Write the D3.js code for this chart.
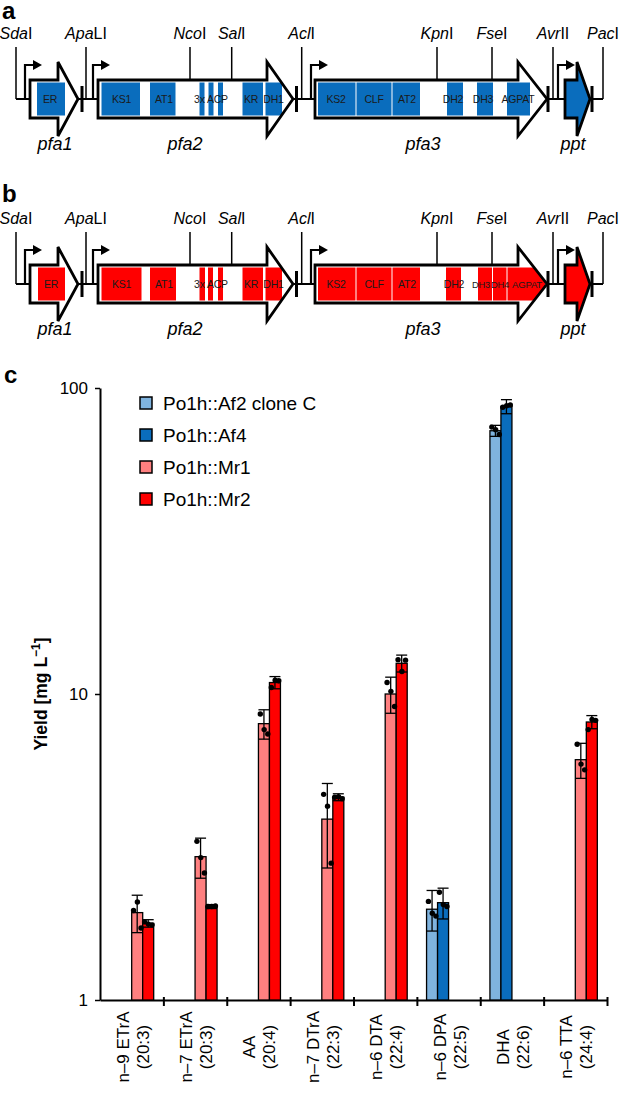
<!DOCTYPE html>
<html>
<head>
<meta charset="utf-8">
<script src="https://cdn.jsdelivr.net/npm/d3@7"></script>
<style>
body { margin: 0; background: #fff; }
text { font-family: "Liberation Sans", Arial, sans-serif; }
</style>
</head>
<body>
<div id="fig"></div>
<script>
// ---------- panel c data ----------
const categories = ["n–9 ETrA", "n–7 ETrA", "AA", "n–7 DTrA", "n–6 DTA", "n–6 DPA", "DHA", "n–6 TTA"];
const formulas = ["(20:3)", "(20:3)", "(20:4)", "(22:3)", "(22:4)", "(22:5)", "(22:6)", "(24:4)"];
const seriesNames = ["Po1h::Af2 clone C", "Po1h::Af4", "Po1h::Mr1", "Po1h::Mr2"];
const seriesColors = ["#7fb3de", "#0a6dbd", "#ff8080", "#ff0000"];

const af2Mean = [null, null, null, null, null, 1.98, 72.5, null];
const af2Sd = [null, null, null, null, null, 0.3, 3.0, null];
const af2Reps = [null, null, null, null, null, [2.1, 1.92, 1.88], [74.5, 73, 70.5], null];

const af4Mean = [null, null, null, null, null, 2.08, 87, null];
const af4Sd = [null, null, null, null, null, 0.24, 4.6, null];
const af4Reps = [null, null, null, null, null, [2.25, 2.05, 2.02], [86.5, 87.5, 88], null];

const mr1Mean = [1.93, 2.94, 8.0, 3.9, 10.0, null, null, 6.1];
const mr1Sd = [0.27, 0.44, 0.88, 1.2, 1.35, null, null, 0.8];
const mr1Reps = [[1.96, 2.09, 1.72], [3.3, 2.92, 2.6], [8.6, 7.65, 7.4], [4.7, 4.3, 2.8], [10.9, 10.2, 9.1], null, null, [6.85, 5.9, 5.65]];

const mr2Mean = [1.78, 2.02, 10.9, 4.6, 12.6, null, null, 8.1];
const mr2Sd = [0.05, 0.03, 0.5, 0.12, 0.8, null, null, 0.4];
const mr2Reps = [[1.8, 1.77, 1.76], [2.02, 2.02, 2.03], [10.5, 11.1, 11.05], [4.6, 4.62, 4.55], [12.95, 11.85, 12.9], null, null, [7.65, 8.25, 8.2]];

const yTicks = [1, 10, 100];

// ---------- panels a/b data (map units ~ px) ----------
const geneNames = ["pfa1", "pfa2", "pfa3", "ppt"];
const geneStart = [30, 98, 315, 565];
const geneHead = [58, 267, 518, 577];
const geneTip = [78, 293, 547, 590];
const geneLabelX = [55, 185, 423, 573];
const promoterPos = [25, 93, 311, 558];
const terminatorPos = [82, 296.5, 548, 592];

const siteItalic = ["Sda", "Apa", "Nco", "Sal", "Acl", "Kpn", "Fse", "Avr", "Pac"];
const siteRoman = ["I", "LI", "I", "I", "I", "I", "I", "II", "I"];
const sitePos = [16, 86, 190, 231.7, 301.7, 437, 492, 553, 603];
const siteOnGene = [false, false, true, true, false, true, true, false, false];

// [gene index, start, end]
const domainsA = [
    [0, 37, 65],
    [1, 101.5, 140], [1, 150, 175.5], [1, 199.5, 204.5], [1, 208.5, 213.5], [1, 218, 223], [1, 242.5, 263], [1, 265.5, 282],
    [2, 318, 355.5], [2, 356.5, 391.5], [2, 392.5, 420], [2, 447, 463], [2, 477, 493], [2, 507, 530],
    [3, 560, 595]
];
// [text, x, font size]
const labelsA = [["ER", 50, 10.5], ["KS1", 121.5, 10.5], ["AT1", 164, 10.5], ["3x ACP", 211, 10.5], ["KR", 251, 10.5], ["DH1", 273.5, 10.5],
    ["KS2", 336, 10.5], ["CLF", 374, 10.5], ["AT2", 407, 10.5], ["DH2", 453, 10.5], ["DH3", 483, 10.5], ["AGPAT", 518, 10.5]];

const domainsB = [
    [0, 38, 65],
    [1, 101.5, 141.5], [1, 150, 176], [1, 199.5, 205], [1, 208, 213], [1, 218, 223], [1, 242.5, 263], [1, 265.5, 282],
    [2, 318, 355.5], [2, 356.5, 391.5], [2, 392.5, 420], [2, 446, 461], [2, 478, 492], [2, 493, 506.5], [2, 507.5, 545],
    [3, 560, 595]
];
const labelsB = [["ER", 51, 10.5], ["KS1", 121.5, 10.5], ["AT1", 164, 10.5], ["3x ACP", 211, 10.5], ["KR", 251, 10.5], ["DH1", 273.5, 10.5],
    ["KS2", 336, 10.5], ["CLF", 374, 10.5], ["AT2", 407, 10.5], ["DH2", 454, 10.5], ["DH3", 481, 9.3], ["DH4", 500, 9.3], ["AGPAT", 527, 9.6]];

const width = 633, height = 1096;

let svg = d3.select("#fig")
    .append("svg")
    .attr("width", width)
    .attr("height", height);

// panel letters
svg.append("text").attr("x", 2).attr("y", 19).style("font-size", "24px").style("font-weight", 700).text("a");
svg.append("text").attr("x", 2).attr("y", 202).style("font-size", "24px").style("font-weight", 700).text("b");
svg.append("text").attr("x", 4).attr("y", 383).style("font-size", "24px").style("font-weight", 700).text("c");

// ---------- gene maps ----------
let mx = d3.scaleLinear().domain([0, width]).range([0, width]);
const bodyH = 19, headH = 37, boxH = 16.5;

function genePath(i) {
    let x0 = mx(geneStart[i]), h = mx(geneHead[i]), x1 = mx(geneTip[i]);
    return `M${x0},${-bodyH}L${h},${-bodyH}L${h},${-headH}L${x1},0L${h},${headH}L${h},${bodyH}L${x0},${bodyH}Z`;
}

function drawMap(panelY, domains, labels, color, id) {
    let g = svg.append("g").attr("transform", `translate(0, ${panelY})`);

    // backbone
    g.append("line")
        .attr("x1", mx(sitePos[0])).attr("x2", mx(sitePos[sitePos.length - 1]))
        .attr("y1", 0).attr("y2", 0)
        .attr("stroke", "#000").attr("stroke-width", 2.2);

    // restriction sites
    sitePos.forEach(function(p, i) {
        g.append("line")
            .attr("x1", mx(p)).attr("x2", mx(p))
            .attr("y1", -52).attr("y2", siteOnGene[i] ? -bodyH : 0)
            .attr("stroke", "#000").attr("stroke-width", 1.5);
        let t = g.append("text")
            .attr("x", mx(p)).attr("y", -60)
            .style("text-anchor", "middle")
            .style("font-size", "16px");
        t.append("tspan").style("font-style", "italic").text(siteItalic[i]);
        t.append("tspan").text(siteRoman[i]);
    });

    // promoters
    promoterPos.forEach(function(p) {
        g.append("path")
            .attr("d", `M${mx(p)},0V-34H${mx(p) + 9}`)
            .attr("fill", "none").attr("stroke", "#000").attr("stroke-width", 2.2);
        g.append("path")
            .attr("d", `M${mx(p) + 8},-39L${mx(p) + 17},-34L${mx(p) + 8},-29Z`)
            .attr("fill", "#000");
    });

    // genes
    let defs = g.append("defs");
    geneNames.forEach(function(name, i) {
        defs.append("clipPath").attr("id", `clip-${id}-${i}`)
            .append("path").attr("d", genePath(i));
        g.append("path").attr("d", genePath(i)).attr("fill", "#fff");
        g.append("g").attr("clip-path", `url(#clip-${id}-${i})`)
            .selectAll("rect")
            .data(domains.filter(function(d) { return d[0] == i; }))
            .enter().append("rect")
            .attr("x", function(d) { return mx(d[1]); })
            .attr("width", function(d) { return mx(d[2]) - mx(d[1]); })
            .attr("y", i == 3 ? -headH : -boxH)
            .attr("height", i == 3 ? 2 * headH : 2 * boxH)
            .attr("fill", color);
        g.append("path").attr("d", genePath(i))
            .attr("fill", "none").attr("stroke", "#000").attr("stroke-width", 2.8)
            .attr("stroke-linejoin", "miter");
        g.append("text")
            .attr("x", mx(geneLabelX[i])).attr("y", 51)
            .style("text-anchor", "middle")
            .style("font-size", "18px").style("font-style", "italic")
            .text(name);
    });

    // terminators
    terminatorPos.forEach(function(p) {
        g.append("line")
            .attr("x1", mx(p)).attr("x2", mx(p))
            .attr("y1", -13).attr("y2", 13)
            .attr("stroke", "#000").attr("stroke-width", 3);
    });

    // domain labels
    g.selectAll(".dlabel").data(labels).enter().append("text")
        .attr("class", "dlabel")
        .attr("x", function(d) { return mx(d[1]); })
        .attr("y", 3.8)
        .style("text-anchor", "middle")
        .style("font-size", function(d) { return d[2] + "px"; })
        .style("letter-spacing", "-0.2px")
        .style("fill", "#1a1a1a")
        .text(function(d) { return d[0]; });
}

drawMap(99, domainsA, labelsA, "#0a6dbd", "a");
drawMap(284, domainsB, labelsB, "#ff0000", "b");

// ---------- panel c ----------
const plot = { left: 100, right: 607, top: 388, bottom: 1000 };

let x0 = d3.scaleBand().domain(categories).range([plot.left, plot.right]);
let x1 = d3.scaleBand().domain(seriesNames).range([0, x0.bandwidth()]).paddingInner(0).paddingOuter(0.88);
let y = d3.scaleLog().domain([1, 100]).range([plot.bottom, plot.top]);
let xIdx = d3.scaleLinear().domain([0, categories.length]).range([plot.left, plot.right]);

let chart = svg.append("g");

// bottom axis with ticks between groups
let xAxis = chart.append("g")
    .attr("transform", `translate(0, ${plot.bottom})`)
    .call(d3.axisBottom(xIdx).tickValues(d3.range(1, categories.length + 1)).tickFormat("").tickSize(6).tickSizeOuter(0));
xAxis.select(".domain").attr("stroke-width", 2);
xAxis.selectAll(".tick line").attr("y1", -3).attr("stroke-width", 2);

// left axis
let yAxis = chart.append("g")
    .attr("transform", `translate(${plot.left}, 0)`)
    .call(d3.axisLeft(y).tickValues(yTicks).tickFormat(d3.format("d")).tickSize(5).tickSizeOuter(0).tickPadding(7));
yAxis.select(".domain").attr("stroke-width", 2);
yAxis.selectAll(".tick line").attr("stroke-width", 1.5);
yAxis.selectAll(".tick text").style("font-size", "17px").style("fill", "#000")
    .style("font-family", "'Liberation Sans', Arial, sans-serif");

// y title
let ytitle = chart.append("text")
    .attr("transform", `translate(47, ${(plot.top + plot.bottom) / 2}) rotate(-90)`)
    .style("text-anchor", "middle")
    .style("font-size", "17.5px")
    .style("font-weight", 700);
ytitle.append("tspan").text("Yield [mg L");
ytitle.append("tspan").attr("dy", -7).style("font-size", "12px").text("−1");
ytitle.append("tspan").attr("dy", 7).text("]");

// category labels
let catG = chart.selectAll(".cat").data(categories).enter().append("g")
    .attr("class", "cat")
    .attr("transform", function(d) { return `translate(${x0(d) + x0.bandwidth() / 2}, 1047) rotate(-90)`; });
catG.append("text").attr("x", 0).attr("y", -3)
    .style("text-anchor", "middle").style("font-size", "17px")
    .text(function(d) { return d; });
catG.append("text").attr("x", 0).attr("y", 17)
    .style("text-anchor", "middle").style("font-size", "17px")
    .text(function(d, i) { return formulas[i]; });

// bars
const means = [af2Mean, af4Mean, mr1Mean, mr2Mean];
const sds = [af2Sd, af4Sd, mr1Sd, mr2Sd];
const reps = [af2Reps, af4Reps, mr1Reps, mr2Reps];
const jitter = [-0.33, 0.02, 0.35];

let rows = [];
seriesNames.forEach(function(s, si) {
    categories.forEach(function(c, ci) {
        if (means[si][ci] != null) {
            rows.push({ series: s, si: si, cat: c, mean: means[si][ci], sd: sds[si][ci], reps: reps[si][ci] });
        }
    });
});

let w = x1.bandwidth();

chart.selectAll(".bar").data(rows).enter().append("rect")
    .attr("class", "bar")
    .attr("x", function(d) { return x0(d.cat) + x1(d.series); })
    .attr("y", function(d) { return y(d.mean); })
    .attr("width", w)
    .attr("height", function(d) { return y(1) - y(d.mean); })
    .attr("fill", function(d) { return seriesColors[d.si]; })
    .attr("stroke", "#000")
    .attr("stroke-width", 1.3);

let err = chart.selectAll(".err").data(rows).enter().append("g").attr("class", "err")
    .attr("stroke", "#000").attr("stroke-width", 1.3);
err.append("line")
    .attr("x1", function(d) { return x0(d.cat) + x1(d.series) + w / 2; })
    .attr("x2", function(d) { return x0(d.cat) + x1(d.series) + w / 2; })
    .attr("y1", function(d) { return y(d.mean - d.sd); })
    .attr("y2", function(d) { return y(d.mean + d.sd); });
err.append("line")
    .attr("x1", function(d) { return x0(d.cat) + x1(d.series); })
    .attr("x2", function(d) { return x0(d.cat) + x1(d.series) + w; })
    .attr("y1", function(d) { return y(d.mean + d.sd); })
    .attr("y2", function(d) { return y(d.mean + d.sd); });
err.append("line")
    .attr("x1", function(d) { return x0(d.cat) + x1(d.series); })
    .attr("x2", function(d) { return x0(d.cat) + x1(d.series) + w; })
    .attr("y1", function(d) { return y(d.mean - d.sd); })
    .attr("y2", function(d) { return y(d.mean - d.sd); });

let dots = [];
rows.forEach(function(d) {
    d.reps.forEach(function(v, k) {
        dots.push({ x: x0(d.cat) + x1(d.series) + w / 2 + jitter[k] * w, v: v });
    });
});
chart.selectAll(".dot").data(dots).enter().append("circle")
    .attr("class", "dot")
    .attr("cx", function(d) { return d.x; })
    .attr("cy", function(d) { return y(d.v); })
    .attr("r", 2.7)
    .attr("fill", "#000");

// legend
let legend = chart.selectAll(".legend").data(seriesNames).enter().append("g")
    .attr("class", "legend")
    .attr("transform", function(d, i) { return `translate(140, ${403 + i * 32})`; });
legend.append("rect")
    .attr("x", 0).attr("y", -6).attr("width", 12).attr("height", 12)
    .attr("fill", function(d, i) { return seriesColors[i]; })
    .attr("stroke", "#000").attr("stroke-width", 1.5);
legend.append("text")
    .attr("x", 23).attr("y", 7)
    .style("font-size", "19px")
    .text(function(d) { return d; });
</script>
</body>
</html>
